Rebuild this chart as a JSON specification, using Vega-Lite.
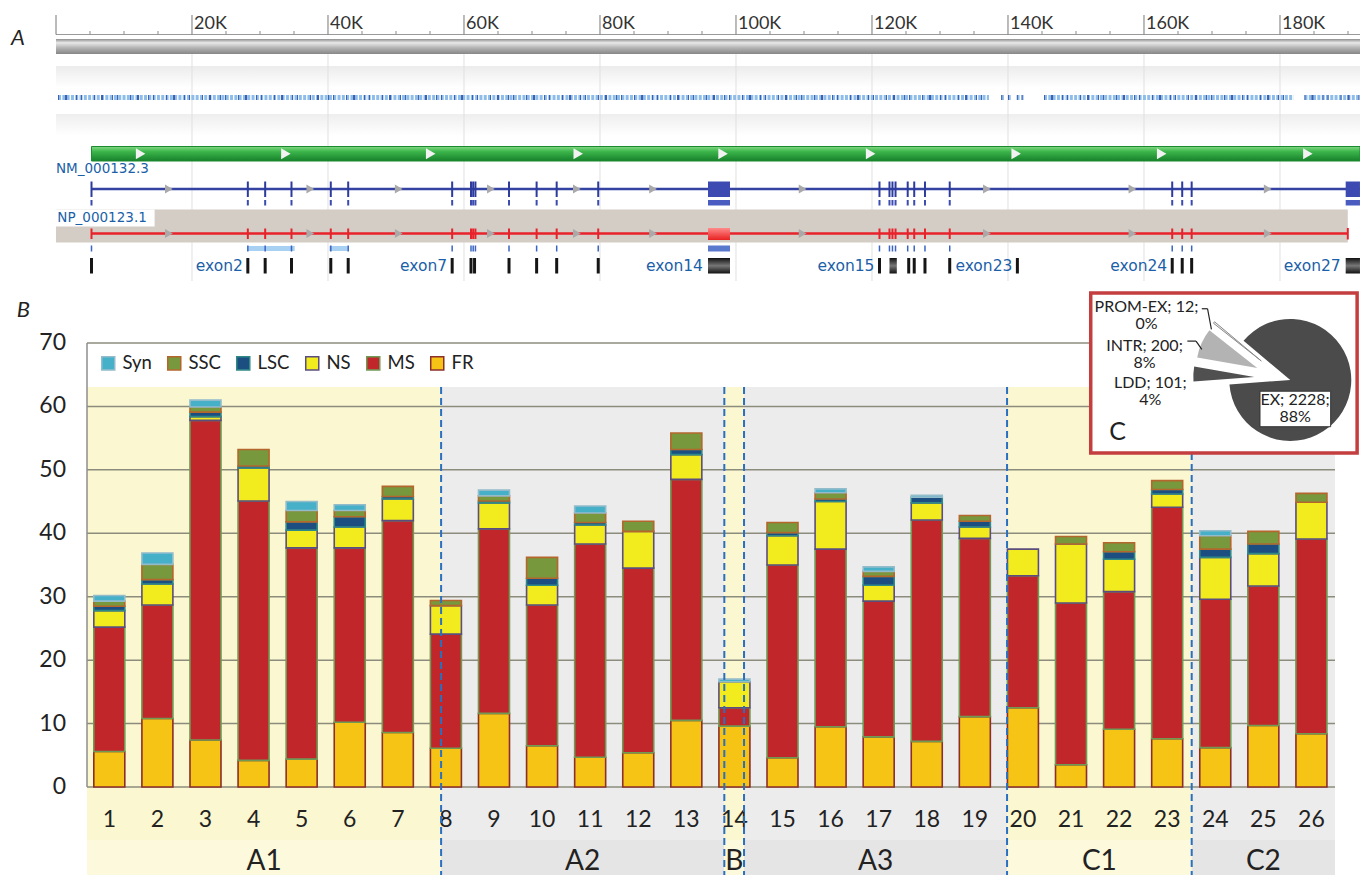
{
"$schema": "https://vega.github.io/schema/vega-lite/v6.json",
"width": 1258, "height": 444, "autosize": "none",
"padding": {"left": 82, "top": 343, "right": 20, "bottom": 88},
"background": "#ffffff",
"config": {"view": {"stroke": null}, "text": {"font": "Lato"}, "axis": {"labelFont": "Lato"}, "legend": {"labelFont": "Lato"}},
"datasets": {
"bars": [
{"b":1,"t":"FR","lo":0,"hi":5.6},{"b":1,"t":"MS","lo":5.6,"hi":25.2},{"b":1,"t":"NS","lo":25.2,"hi":27.8},{"b":1,"t":"LSC","lo":27.8,"hi":28.5},{"b":1,"t":"SSC","lo":28.5,"hi":29.3},{"b":1,"t":"Syn","lo":29.3,"hi":30.2},
{"b":2,"t":"FR","lo":0,"hi":10.8},{"b":2,"t":"MS","lo":10.8,"hi":28.7},{"b":2,"t":"NS","lo":28.7,"hi":32.0},{"b":2,"t":"LSC","lo":32.0,"hi":32.7},{"b":2,"t":"SSC","lo":32.7,"hi":35.1},{"b":2,"t":"Syn","lo":35.1,"hi":36.9},
{"b":3,"t":"FR","lo":0,"hi":7.4},{"b":3,"t":"MS","lo":7.4,"hi":57.8},{"b":3,"t":"NS","lo":57.8,"hi":58.4},{"b":3,"t":"LSC","lo":58.4,"hi":59.1},{"b":3,"t":"SSC","lo":59.1,"hi":59.9},{"b":3,"t":"Syn","lo":59.9,"hi":61.0},
{"b":4,"t":"FR","lo":0,"hi":4.2},{"b":4,"t":"MS","lo":4.2,"hi":45.1},{"b":4,"t":"NS","lo":45.1,"hi":50.3},{"b":4,"t":"LSC","lo":50.3,"hi":50.6},{"b":4,"t":"SSC","lo":50.6,"hi":53.2},
{"b":5,"t":"FR","lo":0,"hi":4.4},{"b":5,"t":"MS","lo":4.4,"hi":37.7},{"b":5,"t":"NS","lo":37.7,"hi":40.5},{"b":5,"t":"LSC","lo":40.5,"hi":41.8},{"b":5,"t":"SSC","lo":41.8,"hi":43.6},{"b":5,"t":"Syn","lo":43.6,"hi":45.0},
{"b":6,"t":"FR","lo":0,"hi":10.2},{"b":6,"t":"MS","lo":10.2,"hi":37.7},{"b":6,"t":"NS","lo":37.7,"hi":41.0},{"b":6,"t":"LSC","lo":41.0,"hi":42.6},{"b":6,"t":"SSC","lo":42.6,"hi":43.6},{"b":6,"t":"Syn","lo":43.6,"hi":44.5},
{"b":7,"t":"FR","lo":0,"hi":8.6},{"b":7,"t":"MS","lo":8.6,"hi":42.0},{"b":7,"t":"NS","lo":42.0,"hi":45.4},{"b":7,"t":"LSC","lo":45.4,"hi":45.8},{"b":7,"t":"SSC","lo":45.8,"hi":47.4},
{"b":8,"t":"FR","lo":0,"hi":6.1},{"b":8,"t":"MS","lo":6.1,"hi":24.1},{"b":8,"t":"NS","lo":24.1,"hi":28.6},{"b":8,"t":"SSC","lo":28.6,"hi":29.4},
{"b":9,"t":"FR","lo":0,"hi":11.6},{"b":9,"t":"MS","lo":11.6,"hi":40.7},{"b":9,"t":"NS","lo":40.7,"hi":44.8},{"b":9,"t":"LSC","lo":44.8,"hi":45.1},{"b":9,"t":"SSC","lo":45.1,"hi":45.9},{"b":9,"t":"Syn","lo":45.9,"hi":46.8},
{"b":10,"t":"FR","lo":0,"hi":6.5},{"b":10,"t":"MS","lo":6.5,"hi":28.7},{"b":10,"t":"NS","lo":28.7,"hi":31.8},{"b":10,"t":"LSC","lo":31.8,"hi":32.9},{"b":10,"t":"SSC","lo":32.9,"hi":36.2},
{"b":11,"t":"FR","lo":0,"hi":4.7},{"b":11,"t":"MS","lo":4.7,"hi":38.3},{"b":11,"t":"NS","lo":38.3,"hi":41.3},{"b":11,"t":"LSC","lo":41.3,"hi":41.7},{"b":11,"t":"SSC","lo":41.7,"hi":43.2},{"b":11,"t":"Syn","lo":43.2,"hi":44.3},
{"b":12,"t":"FR","lo":0,"hi":5.4},{"b":12,"t":"MS","lo":5.4,"hi":34.5},{"b":12,"t":"NS","lo":34.5,"hi":40.3},{"b":12,"t":"SSC","lo":40.3,"hi":41.9},
{"b":13,"t":"FR","lo":0,"hi":10.5},{"b":13,"t":"MS","lo":10.5,"hi":48.5},{"b":13,"t":"NS","lo":48.5,"hi":52.4},{"b":13,"t":"LSC","lo":52.4,"hi":53.2},{"b":13,"t":"SSC","lo":53.2,"hi":55.8},
{"b":14,"t":"FR","lo":0,"hi":9.6},{"b":14,"t":"MS","lo":9.6,"hi":12.5},{"b":14,"t":"NS","lo":12.5,"hi":16.6},{"b":14,"t":"Syn","lo":16.6,"hi":17.0},
{"b":15,"t":"FR","lo":0,"hi":4.6},{"b":15,"t":"MS","lo":4.6,"hi":35.0},{"b":15,"t":"NS","lo":35.0,"hi":39.6},{"b":15,"t":"LSC","lo":39.6,"hi":40.1},{"b":15,"t":"SSC","lo":40.1,"hi":41.7},
{"b":16,"t":"FR","lo":0,"hi":9.5},{"b":16,"t":"MS","lo":9.5,"hi":37.5},{"b":16,"t":"NS","lo":37.5,"hi":45.0},{"b":16,"t":"LSC","lo":45.0,"hi":45.4},{"b":16,"t":"SSC","lo":45.4,"hi":46.4},{"b":16,"t":"Syn","lo":46.4,"hi":47.0},
{"b":17,"t":"FR","lo":0,"hi":7.9},{"b":17,"t":"MS","lo":7.9,"hi":29.3},{"b":17,"t":"NS","lo":29.3,"hi":31.8},{"b":17,"t":"LSC","lo":31.8,"hi":33.2},{"b":17,"t":"SSC","lo":33.2,"hi":34.0},{"b":17,"t":"Syn","lo":34.0,"hi":34.7},
{"b":18,"t":"FR","lo":0,"hi":7.2},{"b":18,"t":"MS","lo":7.2,"hi":42.1},{"b":18,"t":"NS","lo":42.1,"hi":44.8},{"b":18,"t":"LSC","lo":44.8,"hi":45.7},{"b":18,"t":"Syn","lo":45.7,"hi":46.0},
{"b":19,"t":"FR","lo":0,"hi":11.1},{"b":19,"t":"MS","lo":11.1,"hi":39.2},{"b":19,"t":"NS","lo":39.2,"hi":41.0},{"b":19,"t":"LSC","lo":41.0,"hi":41.9},{"b":19,"t":"SSC","lo":41.9,"hi":42.8},
{"b":20,"t":"FR","lo":0,"hi":12.5},{"b":20,"t":"MS","lo":12.5,"hi":33.3},{"b":20,"t":"NS","lo":33.3,"hi":37.5},
{"b":21,"t":"FR","lo":0,"hi":3.5},{"b":21,"t":"MS","lo":3.5,"hi":29.0},{"b":21,"t":"NS","lo":29.0,"hi":38.3},{"b":21,"t":"SSC","lo":38.3,"hi":39.5},
{"b":22,"t":"FR","lo":0,"hi":9.1},{"b":22,"t":"MS","lo":9.1,"hi":30.8},{"b":22,"t":"NS","lo":30.8,"hi":35.9},{"b":22,"t":"LSC","lo":35.9,"hi":37.1},{"b":22,"t":"SSC","lo":37.1,"hi":38.5},
{"b":23,"t":"FR","lo":0,"hi":7.6},{"b":23,"t":"MS","lo":7.6,"hi":44.1},{"b":23,"t":"NS","lo":44.1,"hi":46.2},{"b":23,"t":"LSC","lo":46.2,"hi":46.9},{"b":23,"t":"SSC","lo":46.9,"hi":48.3},
{"b":24,"t":"FR","lo":0,"hi":6.2},{"b":24,"t":"MS","lo":6.2,"hi":29.6},{"b":24,"t":"NS","lo":29.6,"hi":36.2},{"b":24,"t":"LSC","lo":36.2,"hi":37.5},{"b":24,"t":"SSC","lo":37.5,"hi":39.6},{"b":24,"t":"Syn","lo":39.6,"hi":40.4},
{"b":25,"t":"FR","lo":0,"hi":9.7},{"b":25,"t":"MS","lo":9.7,"hi":31.7},{"b":25,"t":"NS","lo":31.7,"hi":36.8},{"b":25,"t":"LSC","lo":36.8,"hi":38.3},{"b":25,"t":"SSC","lo":38.3,"hi":40.3},
{"b":26,"t":"FR","lo":0,"hi":8.4},{"b":26,"t":"MS","lo":8.4,"hi":39.1},{"b":26,"t":"NS","lo":39.1,"hi":44.9},{"b":26,"t":"SSC","lo":44.9,"hi":46.3}
],
"gmaj": [{"p":0,"l":""},{"p":20,"l":"20K"},{"p":40,"l":"40K"},{"p":60,"l":"60K"},{"p":80,"l":"80K"},{"p":100,"l":"100K"},{"p":120,"l":"120K"},{"p":140,"l":"140K"},{"p":160,"l":"160K"},{"p":180,"l":"180K"}],
"gmin": [{"p":5},{"p":10},{"p":15},{"p":25},{"p":30},{"p":35},{"p":45},{"p":50},{"p":55},{"p":65},{"p":70},{"p":75},{"p":85},{"p":90},{"p":95},{"p":105},{"p":110},{"p":115},{"p":125},{"p":130},{"p":135},{"p":145},{"p":150},{"p":155},{"p":165},{"p":170},{"p":175},{"p":185},{"p":190}],
"snp": [{"s":0.3,"e":137.2},{"s":139.0,"e":139.4},{"s":140.0,"e":140.4},{"s":141.3,"e":141.7},{"s":142.0,"e":142.3},{"s":145.3,"e":182.0},{"s":183.6,"e":191.76}],
"chevg": [{"p":12.44},{"p":33.8},{"p":55.1},{"p":76.8},{"p":98.1},{"p":119.8},{"p":141.2},{"p":162.6},{"p":184.1}],
"chevl": [{"p":16.6},{"p":37.4},{"p":50.4},{"p":63.96},{"p":76.6},{"p":87.8},{"p":109.8},{"p":136.9},{"p":158.3},{"p":178.2}],
"exons": [{"p":5.22},{"p":28.21},{"p":30.76},{"p":34.63},{"p":40.41},{"p":42.97},{"p":58.26},{"p":61.03},{"p":61.35},{"p":61.68},{"p":66.62},{"p":70.68},{"p":73.63},{"p":79.74},{"p":121.1},{"p":122.57},{"p":123.01},{"p":123.46},{"p":125.25},{"p":126.21},{"p":127.79},{"p":131.43},{"p":164.15},{"p":165.62},{"p":167.01}],
"boxes": [{"s":95.88,"e":99.12},{"s":189.66,"e":191.76}],
"blk": [{"p":5.22},{"p":28.21},{"p":30.76},{"p":34.63},{"p":40.41},{"p":42.97},{"p":58.26},{"p":61.03},{"p":61.55},{"p":66.62},{"p":70.68},{"p":73.63},{"p":79.74},{"p":121.1},{"p":125.4},{"p":126.21},{"p":127.79},{"p":131.43},{"p":141.38},{"p":164.15},{"p":165.62},{"p":167.01}],
"blkbox": [{"s":95.88,"e":99.12},{"s":122.57,"e":123.65},{"s":189.66,"e":191.76}],
"exlab": [{"l":"exon2","p":28.21},{"l":"exon7","p":58.26},{"l":"exon14","p":95.88},{"l":"exon15","p":121.1},{"l":"exon23","p":141.38},{"l":"exon24","p":164.15},{"l":"exon27","p":189.66}],
"dom": [{"s":28.21,"e":35.1},{"s":40.2,"e":42.9}],
"regions": [{"g":"A1","e":0.536,"band":"y"},{"g":"A1","e":7.9,"band":"y"},{"g":"A2","e":7.9,"band":"g"},{"g":"A2","e":13.79,"band":"g"},{"g":"B","e":13.79,"band":"y"},{"g":"B","e":14.2,"band":"y"},{"g":"A3","e":14.2,"band":"g"},{"g":"A3","e":19.67,"band":"g"},{"g":"C1","e":19.67,"band":"y"},{"g":"C1","e":23.51,"band":"y"},{"g":"C2","e":23.51,"band":"g"},{"g":"C2","e":26.49,"band":"g"}],
"dividers": [{"e":7.9},{"e":13.79},{"e":14.2},{"e":19.67},{"e":23.51}],
"grid": [{"v":0},{"v":10},{"v":20},{"v":30},{"v":40},{"v":50},{"v":60},{"v":70}],
"pie": [{"t":"EX","n":2228,"c0":0,"c1":2228},{"t":"LDD","n":101,"c0":2228,"c1":2329},{"t":"INTR","n":200,"c0":2329,"c1":2529},{"t":"PROM-EX","n":12,"c0":2529,"c1":2541}]
},
"resolve": {"scale": {"x": "independent", "y": "independent"}},
"layer": [
{"layer": [
 {"data":{"values":[{}]},"mark":{"type":"rect","fill":{"gradient":"linear","x1":0,"y1":0,"x2":0,"y2":1,"stops":[{"offset":0,"color":"#ececec"},{"offset":1,"color":"#ffffff"}]}},
  "encoding":{"x":{"datum":0,"type":"quantitative","scale":{"domain":[0,191.765],"range":[-26,1278],"nice":false,"zero":false},"axis":null},"x2":{"datum":191.765},"y":{"datum":66,"type":"quantitative","scale":{"domain":[0,292],"range":[-343,-51],"nice":false,"zero":false},"axis":null},"y2":{"datum":88}}},
 {"data":{"values":[{}]},"mark":{"type":"rect","fill":{"gradient":"linear","x1":0,"y1":0,"x2":0,"y2":1,"stops":[{"offset":0,"color":"#eeeeee"},{"offset":1,"color":"#ffffff"}]}},
  "encoding":{"x":{"datum":0,"type":"quantitative","axis":null},"x2":{"datum":191.765},"y":{"datum":114,"type":"quantitative","axis":null},"y2":{"datum":136}}},
 {"data":{"name":"gmaj"},"transform":[{"filter":"datum.p>0"}],"mark":{"type":"rule","color":"#e0e0e0","strokeWidth":1},
  "encoding":{"x":{"field":"p","type":"quantitative","axis":null},"y":{"datum":54,"type":"quantitative","axis":null},"y2":{"datum":281}}},
 {"data":{"values":[{}]},"mark":{"type":"rect","fill":{"gradient":"linear","x1":0,"y1":0,"x2":0,"y2":1,"stops":[{"offset":0,"color":"#8e8e8e"},{"offset":0.25,"color":"#e8e8e8"},{"offset":0.6,"color":"#b2b2b2"},{"offset":1,"color":"#878787"}]}},
  "encoding":{"x":{"datum":0,"type":"quantitative","axis":null},"x2":{"datum":191.765},"y":{"datum":39,"type":"quantitative","axis":null},"y2":{"datum":54}}},
 {"data":{"values":[{}]},"mark":{"type":"rule","color":"#9a9a9a","strokeWidth":1},
  "encoding":{"x":{"datum":0,"type":"quantitative","axis":null},"x2":{"datum":191.765},"y":{"datum":34.5,"type":"quantitative","axis":null}}},
 {"data":{"name":"gmin"},"mark":{"type":"rule","color":"#8a8a8a","strokeWidth":1},
  "encoding":{"x":{"field":"p","type":"quantitative","axis":null},"y":{"datum":31,"type":"quantitative","axis":null},"y2":{"datum":34.5}}},
 {"data":{"name":"gmaj"},"mark":{"type":"rule","color":"#777777","strokeWidth":1},
  "encoding":{"x":{"field":"p","type":"quantitative","axis":null},"y":{"datum":15,"type":"quantitative","axis":null},"y2":{"datum":34.5}}},
 {"data":{"name":"gmaj"},"mark":{"type":"text","align":"left","baseline":"middle","dx":2,"fontSize":18,"color":"#333333"},
  "encoding":{"x":{"field":"p","type":"quantitative","axis":null},"y":{"datum":24,"type":"quantitative","axis":null},"text":{"field":"l"}}},
 {"data":{"name":"snp"},"mark":{"type":"rule","color":"#8fbde9","strokeWidth":5,"strokeDash":[3,1.3]},
  "encoding":{"x":{"field":"s","type":"quantitative","axis":null},"x2":{"field":"e"},"y":{"datum":97.5,"type":"quantitative","axis":null}}},
 {"data":{"name":"snp"},"mark":{"type":"rule","color":"#3d5fae","strokeWidth":5,"strokeDash":[1,6,2,9,1,4,1,12]},
  "encoding":{"x":{"field":"s","type":"quantitative","axis":null},"x2":{"field":"e"},"y":{"datum":97.5,"type":"quantitative","axis":null}}},
 {"data":{"values":[{}]},"mark":{"type":"rect","stroke":"#1c8a30","strokeWidth":1,"fill":{"gradient":"linear","x1":0,"y1":0,"x2":0,"y2":1,"stops":[{"offset":0,"color":"#84d884"},{"offset":0.35,"color":"#3cb64b"},{"offset":1,"color":"#17802b"}]}},
  "encoding":{"x":{"datum":5.22,"type":"quantitative","axis":null},"x2":{"datum":191.765},"y":{"datum":146.5,"type":"quantitative","axis":null},"y2":{"datum":161}}},
 {"data":{"name":"chevg"},"mark":{"type":"point","shape":"triangle-right","filled":true,"size":120,"color":"#f2f2f2","opacity":1},
  "encoding":{"x":{"field":"p","type":"quantitative","axis":null},"y":{"datum":153.7,"type":"quantitative","axis":null}}},
 {"data":{"values":[{}]},"mark":{"type":"text","text":"NM_000132.3","align":"left","baseline":"middle","font":"DejaVu Sans","fontSize":13.5,"color":"#1b5fa8"},
  "encoding":{"x":{"datum":0,"type":"quantitative","axis":null},"y":{"datum":169,"type":"quantitative","axis":null}}},
 {"data":{"values":[{}]},"mark":{"type":"rule","color":"#3442a2","strokeWidth":2.5},
  "encoding":{"x":{"datum":5.22,"type":"quantitative","axis":null},"x2":{"datum":191.765},"y":{"datum":189,"type":"quantitative","axis":null}}},
 {"data":{"name":"exons"},"mark":{"type":"rule","color":"#2c3b9d","strokeWidth":2},
  "encoding":{"x":{"field":"p","type":"quantitative","axis":null},"y":{"datum":181.5,"type":"quantitative","axis":null},"y2":{"datum":197}}},
 {"data":{"name":"boxes"},"mark":{"type":"rect","fill":"#3c4ab2"},
  "encoding":{"x":{"field":"s","type":"quantitative","axis":null},"x2":{"field":"e"},"y":{"datum":181.5,"type":"quantitative","axis":null},"y2":{"datum":197}}},
 {"data":{"name":"chevl"},"mark":{"type":"point","shape":"triangle-right","filled":true,"size":80,"color":"#a9a9a9","opacity":1},
  "encoding":{"x":{"field":"p","type":"quantitative","axis":null},"y":{"datum":189,"type":"quantitative","axis":null}}},
 {"data":{"name":"exons"},"mark":{"type":"rule","color":"#3b4bb0","strokeWidth":2},
  "encoding":{"x":{"field":"p","type":"quantitative","axis":null},"y":{"datum":200,"type":"quantitative","axis":null},"y2":{"datum":205.5}}},
 {"data":{"name":"boxes"},"mark":{"type":"rect","fill":"#4a5cc0"},
  "encoding":{"x":{"field":"s","type":"quantitative","axis":null},"x2":{"field":"e"},"y":{"datum":200,"type":"quantitative","axis":null},"y2":{"datum":205.5}}},
 {"data":{"values":[{}]},"mark":{"type":"rect","fill":"#d4cdc6"},
  "encoding":{"x":{"datum":0,"type":"quantitative","axis":null},"x2":{"datum":189.97},"y":{"datum":209.5,"type":"quantitative","axis":null},"y2":{"datum":242.5}}},
 {"data":{"values":[{}]},"mark":{"type":"rect","fill":"#ffffff"},
  "encoding":{"x":{"datum":0,"type":"quantitative","axis":null},"x2":{"datum":14.5},"y":{"datum":209.5,"type":"quantitative","axis":null},"y2":{"datum":226.5}}},
 {"data":{"values":[{}]},"mark":{"type":"text","text":"NP_000123.1","align":"left","baseline":"middle","font":"DejaVu Sans","fontSize":13.5,"color":"#1b5fa8"},
  "encoding":{"x":{"datum":0.2,"type":"quantitative","axis":null},"y":{"datum":218,"type":"quantitative","axis":null}}},
 {"data":{"values":[{}]},"mark":{"type":"rule","color":"#e8222b","strokeWidth":2.5},
  "encoding":{"x":{"datum":5.22,"type":"quantitative","axis":null},"x2":{"datum":189.97},"y":{"datum":233.5,"type":"quantitative","axis":null}}},
 {"data":{"name":"exons"},"mark":{"type":"rule","color":"#e8222b","strokeWidth":2},
  "encoding":{"x":{"field":"p","type":"quantitative","axis":null},"y":{"datum":228.5,"type":"quantitative","axis":null},"y2":{"datum":239}}},
 {"data":{"values":[{}]},"mark":{"type":"rule","color":"#e8222b","strokeWidth":2},
  "encoding":{"x":{"datum":189.97,"type":"quantitative","axis":null},"y":{"datum":228,"type":"quantitative","axis":null},"y2":{"datum":239.5}}},
 {"data":{"values":[{}]},"mark":{"type":"rect","fill":{"gradient":"linear","x1":0,"y1":0,"x2":0,"y2":1,"stops":[{"offset":0,"color":"#ff8a8a"},{"offset":1,"color":"#e82020"}]}},
  "encoding":{"x":{"datum":95.88,"type":"quantitative","axis":null},"x2":{"datum":99.12},"y":{"datum":228,"type":"quantitative","axis":null},"y2":{"datum":240}}},
 {"data":{"name":"chevl"},"mark":{"type":"point","shape":"triangle-right","filled":true,"size":80,"color":"#a9a9a9","opacity":1},
  "encoding":{"x":{"field":"p","type":"quantitative","axis":null},"y":{"datum":233.5,"type":"quantitative","axis":null}}},
 {"data":{"name":"dom"},"mark":{"type":"rect","fill":"#a7d0f2"},
  "encoding":{"x":{"field":"s","type":"quantitative","axis":null},"x2":{"field":"e"},"y":{"datum":246,"type":"quantitative","axis":null},"y2":{"datum":251}}},
 {"data":{"name":"exons"},"mark":{"type":"rule","color":"#3a64c4","strokeWidth":1.5},
  "encoding":{"x":{"field":"p","type":"quantitative","axis":null},"y":{"datum":245.5,"type":"quantitative","axis":null},"y2":{"datum":251.5}}},
 {"data":{"name":"boxes"},"transform":[{"filter":"datum.s<100"}],"mark":{"type":"rect","fill":"#5a78cc"},
  "encoding":{"x":{"field":"s","type":"quantitative","axis":null},"x2":{"field":"e"},"y":{"datum":245.5,"type":"quantitative","axis":null},"y2":{"datum":251.5}}},
 {"data":{"name":"blk"},"mark":{"type":"rule","color":"#151515","strokeWidth":3},
  "encoding":{"x":{"field":"p","type":"quantitative","axis":null},"y":{"datum":258,"type":"quantitative","axis":null},"y2":{"datum":273.5}}},
 {"data":{"name":"blkbox"},"mark":{"type":"rect","fill":{"gradient":"linear","x1":0,"y1":0,"x2":0,"y2":1,"stops":[{"offset":0,"color":"#111111"},{"offset":0.5,"color":"#777777"},{"offset":1,"color":"#111111"}]}},
  "encoding":{"x":{"field":"s","type":"quantitative","axis":null},"x2":{"field":"e"},"y":{"datum":258,"type":"quantitative","axis":null},"y2":{"datum":273.5}}},
 {"data":{"name":"exlab"},"mark":{"type":"text","align":"right","baseline":"middle","dx":-5,"font":"DejaVu Sans","fontSize":15.5,"color":"#1b5fa8"},
  "encoding":{"x":{"field":"p","type":"quantitative","axis":null},"y":{"datum":266,"type":"quantitative","axis":null},"text":{"field":"l"}}},
 {"data":{"values":[{}]},"mark":{"type":"text","text":"A","fontSize":22,"fontStyle":"italic","color":"#222222"},
  "encoding":{"x":{"datum":-5.59,"type":"quantitative","axis":null},"y":{"datum":38,"type":"quantitative","axis":null}}}
]},
{"layer": [
 {"data":{"name":"regions"},"mark":{"type":"rect"},
  "encoding":{"x":{"aggregate":"min","field":"e","type":"quantitative","scale":{"domain":[0.536,26.49],"nice":false,"zero":false},"axis":null},"x2":{"aggregate":"max","field":"e"},
   "y":{"datum":63.06,"type":"quantitative","scale":{"domain":[0,70],"nice":false,"zero":false},"axis":null},"y2":{"datum":-8.36},
   "detail":[{"field":"g"},{"field":"band"}],
   "fill":{"condition":{"test":"datum.band==='y'","value":"#fbf7d0"},"value":"#ececec"}}},
 {"data":{"name":"regions"},"mark":{"type":"rect"},
  "encoding":{"x":{"aggregate":"min","field":"e","type":"quantitative","axis":null},"x2":{"aggregate":"max","field":"e"},
   "y":{"datum":-8.36,"type":"quantitative","axis":null},"y2":{"datum":-13.9},
   "detail":[{"field":"g"},{"field":"band"}],
   "fill":{"condition":{"test":"datum.band==='y'","value":"#fcf9dc"},"value":"#e5e5e5"}}},
 {"data":{"name":"grid"},"mark":{"type":"rule","color":"#8c8c7c","strokeWidth":1.5},
  "encoding":{"x":{"datum":0.536,"type":"quantitative","axis":null},"x2":{"datum":26.49},"y":{"field":"v","type":"quantitative","axis":null}}},
 {"data":{"values":[{}]},"mark":{"type":"rule","color":"#8e8e8e","strokeWidth":1.5},
  "encoding":{"x":{"datum":0.536,"type":"quantitative","axis":null},"y":{"datum":0,"type":"quantitative","axis":null},"y2":{"datum":70}}},
 {"data":{"name":"grid"},"mark":{"type":"text","align":"right","baseline":"middle","dx":-21,"fontSize":23,"color":"#222222"},
  "encoding":{"x":{"datum":0.536,"type":"quantitative","axis":null},"y":{"field":"v","type":"quantitative","axis":null},"text":{"field":"v","type":"quantitative"}}},
 {"data":{"name":"bars"},"transform":[{"aggregate":[],"groupby":["b"]}],"mark":{"type":"text","baseline":"middle","fontSize":23,"color":"#222222"},
  "encoding":{"x":{"field":"b","type":"quantitative","axis":null},"y":{"datum":-5.28,"type":"quantitative","axis":null},"text":{"field":"b","type":"quantitative"}}},
 {"data":{"name":"bars"},"mark":{"type":"bar","size":31,"orient":"vertical","strokeWidth":1.6},
  "encoding":{
   "x":{"field":"b","type":"quantitative","axis":null},
   "y":{"field":"hi","type":"quantitative","axis":null},
   "y2":{"field":"lo"},
   "fill":{"field":"t","type":"nominal","scale":{"domain":["Syn","SSC","LSC","NS","MS","FR"],"range":["#47b0c9","#77983d","#1c4e82","#f2ec1e","#c1262a","#f6c414"]},
     "legend":{"orient":"none","legendX":17,"legendY":11,"direction":"horizontal","title":null,"symbolType":"square","symbolSize":170,"symbolStrokeWidth":1.5,"labelFontSize":18.5,"labelColor":"#222222","columnPadding":12,"labelOffset":5,"padding":0}},
   "stroke":{"field":"t","type":"nominal","scale":{"domain":["Syn","SSC","LSC","NS","MS","FR"],"range":["#93bccb","#b4662c","#2f8a86","#5b4d7d","#6f9a55","#8c2e2a"]},
     "legend":{"orient":"none","legendX":17,"legendY":11,"direction":"horizontal","title":null,"symbolType":"square","symbolSize":170,"symbolStrokeWidth":1.5,"labelFontSize":18.5,"labelColor":"#222222","columnPadding":12,"labelOffset":5,"padding":0}}}},
 {"data":{"name":"dividers"},"mark":{"type":"rule","color":"#2a6fc0","strokeWidth":2,"strokeDash":[7,4]},
  "encoding":{"x":{"field":"e","type":"quantitative","axis":null},"y":{"datum":63.06,"type":"quantitative","axis":null},"y2":{"datum":-13.9}}},
 {"data":{"name":"regions"},"mark":{"type":"text","fontSize":28,"color":"#222222","baseline":"middle"},
  "encoding":{"x":{"aggregate":"mean","field":"e","type":"quantitative","axis":null},"y":{"datum":-11.8,"type":"quantitative","axis":null},"text":{"field":"g"}}},
 {"data":{"values":[{}]},"mark":{"type":"rect","fill":"#ffffff","stroke":"#c43e40","strokeWidth":3.5},
  "encoding":{"x":{"datum":21.41,"type":"quantitative","axis":null},"x2":{"datum":26.95},"y":{"datum":77.9,"type":"quantitative","axis":null},"y2":{"datum":52.66}}},
 {"data":{"name":"pie"},"transform":[{"filter":"datum.t==='EX'"}],"mark":{"type":"arc","radius":61,"fill":"#4b4b4b"},
  "encoding":{"theta":{"field":"c0","type":"quantitative","stack":null,"scale":{"domain":[0,2541],"range":[5.4105,11.6937]}},"theta2":{"field":"c1"},
   "x":{"datum":25.56,"type":"quantitative","axis":null},"y":{"datum":64.17,"type":"quantitative","axis":null}}},
 {"data":{"name":"pie"},"transform":[{"filter":"datum.t==='LDD'"}],"mark":{"type":"arc","radius":61,"fill":"#505050","xOffset":-36,"yOffset":-3},
  "encoding":{"theta":{"field":"c0","type":"quantitative","stack":null},"theta2":{"field":"c1"},
   "x":{"datum":25.56,"type":"quantitative","axis":null},"y":{"datum":64.17,"type":"quantitative","axis":null}}},
 {"data":{"name":"pie"},"transform":[{"filter":"datum.t==='INTR'"}],"mark":{"type":"arc","radius":61,"fill":"#b3b3b3","xOffset":-33,"yOffset":-12},
  "encoding":{"theta":{"field":"c0","type":"quantitative","stack":null},"theta2":{"field":"c1"},
   "x":{"datum":25.56,"type":"quantitative","axis":null},"y":{"datum":64.17,"type":"quantitative","axis":null}}},
 {"data":{"name":"pie"},"transform":[{"filter":"datum.t==='PROM-EX'"}],"mark":{"type":"arc","radius":61,"fill":"#eeeeee","stroke":"#8a8a8a","strokeWidth":1,"xOffset":-29,"yOffset":-19},
  "encoding":{"theta":{"field":"c0","type":"quantitative","stack":null},"theta2":{"field":"c1"},
   "x":{"datum":25.56,"type":"quantitative","axis":null},"y":{"datum":64.17,"type":"quantitative","axis":null}}},
 {"data":{"values":[{}]},"mark":{"type":"rect","fill":"#ffffff","stroke":"#333333","strokeWidth":1},
  "encoding":{"x":{"datum":24.93,"type":"quantitative","axis":null},"x2":{"datum":26.4},"y":{"datum":62.4,"type":"quantitative","axis":null},"y2":{"datum":56.8}}},
 {"data":{"values":[{}]},"mark":{"type":"text","text":["EX; 2228;","88%"],"fontSize":16,"lineHeight":17,"color":"#222222","baseline":"middle"},
  "encoding":{"x":{"datum":25.66,"type":"quantitative","axis":null},"y":{"datum":61.0,"type":"quantitative","axis":null}}},
 {"data":{"values":[{}]},"mark":{"type":"text","text":["PROM-EX; 12;","0%"],"fontSize":16,"lineHeight":17,"color":"#222222","baseline":"middle"},
  "encoding":{"x":{"datum":22.57,"type":"quantitative","axis":null},"y":{"datum":75.67,"type":"quantitative","axis":null}}},
 {"data":{"values":[{}]},"mark":{"type":"text","text":["INTR; 200;","8%"],"fontSize":16,"lineHeight":17,"color":"#222222","baseline":"middle"},
  "encoding":{"x":{"datum":22.53,"type":"quantitative","axis":null},"y":{"datum":69.55,"type":"quantitative","axis":null}}},
 {"data":{"values":[{}]},"mark":{"type":"text","text":["LDD; 101;","4%"],"fontSize":16,"lineHeight":17,"color":"#222222","baseline":"middle"},
  "encoding":{"x":{"datum":22.65,"type":"quantitative","axis":null},"y":{"datum":63.69,"type":"quantitative","axis":null}}},
 {"data":{"values":[{}]},"mark":{"type":"rule","color":"#222222","strokeWidth":1.2},
  "encoding":{"x":{"datum":23.72,"type":"quantitative","axis":null},"x2":{"datum":23.84},"y":{"datum":75.4,"type":"quantitative","axis":null},"y2":{"datum":75.4}}},
 {"data":{"values":[{}]},"mark":{"type":"rule","color":"#222222","strokeWidth":1.2},
  "encoding":{"x":{"datum":23.84,"type":"quantitative","axis":null},"x2":{"datum":23.92},"y":{"datum":75.4,"type":"quantitative","axis":null},"y2":{"datum":72.16}}},
 {"data":{"values":[{}]},"mark":{"type":"rule","color":"#222222","strokeWidth":1.2},
  "encoding":{"x":{"datum":23.42,"type":"quantitative","axis":null},"x2":{"datum":23.6},"y":{"datum":70.3,"type":"quantitative","axis":null},"y2":{"datum":70.3}}},
 {"data":{"values":[{}]},"mark":{"type":"rule","color":"#222222","strokeWidth":1.2},
  "encoding":{"x":{"datum":23.6,"type":"quantitative","axis":null},"x2":{"datum":23.72},"y":{"datum":70.3,"type":"quantitative","axis":null},"y2":{"datum":69.0}}},
 {"data":{"values":[{}]},"mark":{"type":"text","text":"C","fontSize":25,"color":"#222222"},
  "encoding":{"x":{"datum":21.97,"type":"quantitative","axis":null},"y":{"datum":55.97,"type":"quantitative","axis":null}}},
 {"data":{"values":[{}]},"mark":{"type":"text","text":"B","fontSize":22,"fontStyle":"italic","color":"#222222"},
  "encoding":{"x":{"datum":-0.785,"type":"quantitative","axis":null},"y":{"datum":75.2,"type":"quantitative","axis":null}}}
]}
]
}
